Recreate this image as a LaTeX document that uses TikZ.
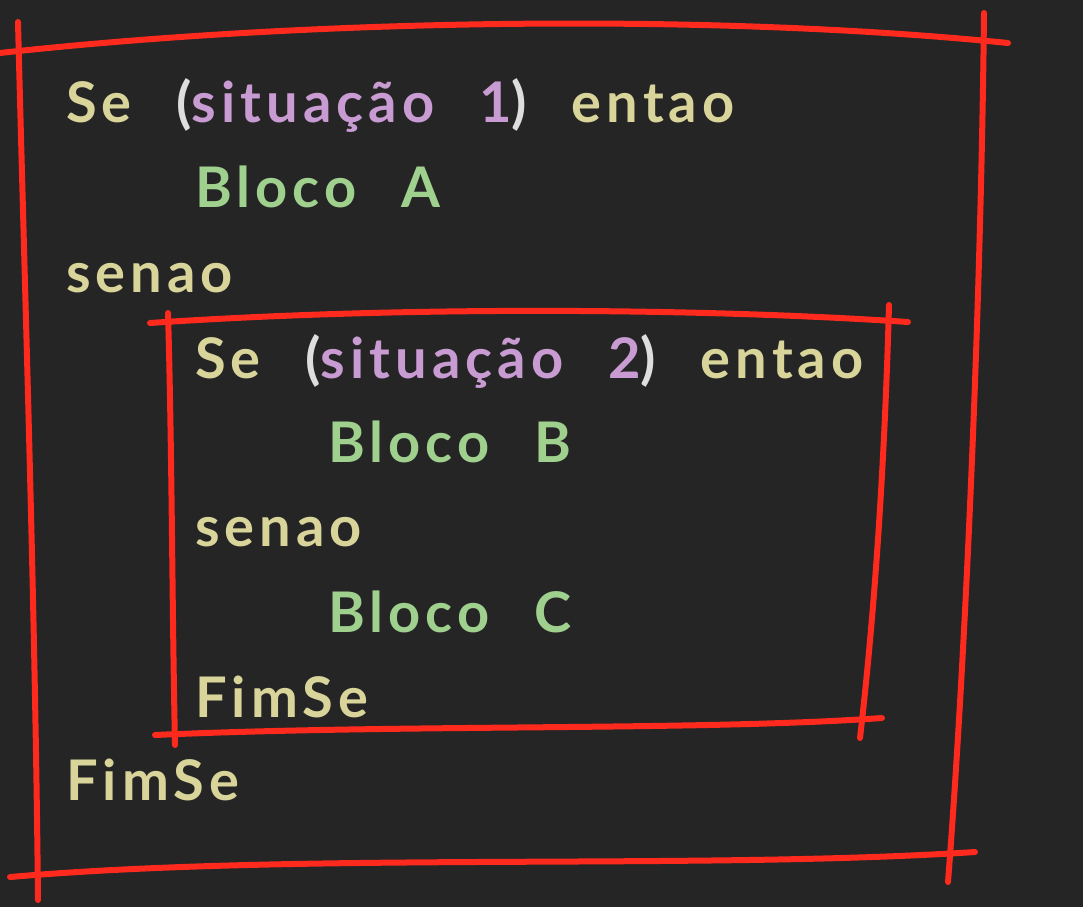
\documentclass[tikz,border=0pt]{standalone}
\usepackage{fontspec}
\setmainfont{Lato}
\newfontfamily\chalkfont[LetterSpace=9]{Lato Bold}
\definecolor{board}{HTML}{252525}
\definecolor{chalkyellow}{HTML}{D8D49A}
\definecolor{chalkpurple}{HTML}{C89BD2}
\definecolor{chalkgreen}{HTML}{9FD08E}
\definecolor{chalkwhite}{HTML}{DEDEDE}
\definecolor{chalkred}{HTML}{FF2A1E}
\newcommand{\codefont}{\chalkfont\fontsize{56}{60}\selectfont\spaceskip=0.8em\relax}
\newcommand{\cond}[1]{\textcolor{chalkwhite}{(}\textcolor{chalkpurple}{situação #1}\textcolor{chalkwhite}{)}}
\begin{document}
\begin{tikzpicture}[x=1pt, y=-1pt, line cap=round,
    code/.style={anchor=base west, inner sep=0pt, text=chalkyellow, font=\codefont},
    blk/.style={code, text=chalkgreen},
    chalk/.style={draw=chalkred, line width=6pt}]
    \fill[board] (0,0) rectangle (1083,907);
    \useasboundingbox (0,0) rectangle (1083,907);
    % outer box
    \draw[chalk] (0,53) .. controls (300,20) and (700,12) .. (1008,43);
    \draw[chalk] (18,22) .. controls (25,300) and (35,600) .. (38,900);
    \draw[chalk] (984,13) .. controls (981,300) and (966,650) .. (948,882);
    \draw[chalk] (10,877) .. controls (300,852) and (700,870) .. (975,852);
    % inner box
    \draw[chalk] (150,323) .. controls (400,306) and (700,308) .. (908,322);
    \draw[chalk] (168,313) .. controls (172,450) and (172,600) .. (175,745);
    \draw[chalk] (889,305) .. controls (885,450) and (876,600) .. (860,738);
    \draw[chalk] (155,735) .. controls (400,724) and (700,731) .. (882,718);
    % code lines
    \node[code] (se1) at (66,122) {Se \cond{1} entao};
    \node[blk] (blocoA) at (195,207) {Bloco A};
    \node[code] (senao1) at (66,292) {senao};
    \node[code] (se2) at (195,378) {Se \cond{2} entao};
    \node[blk] (blocoB) at (328,462) {Bloco B};
    \node[code] (senao2) at (195,546) {senao};
    \node[blk] (blocoC) at (328,632) {Bloco C};
    \node[code] (fim2) at (195,717) {FimSe};
    \node[code] (fim1) at (66,800) {FimSe};
\end{tikzpicture}
\end{document}
